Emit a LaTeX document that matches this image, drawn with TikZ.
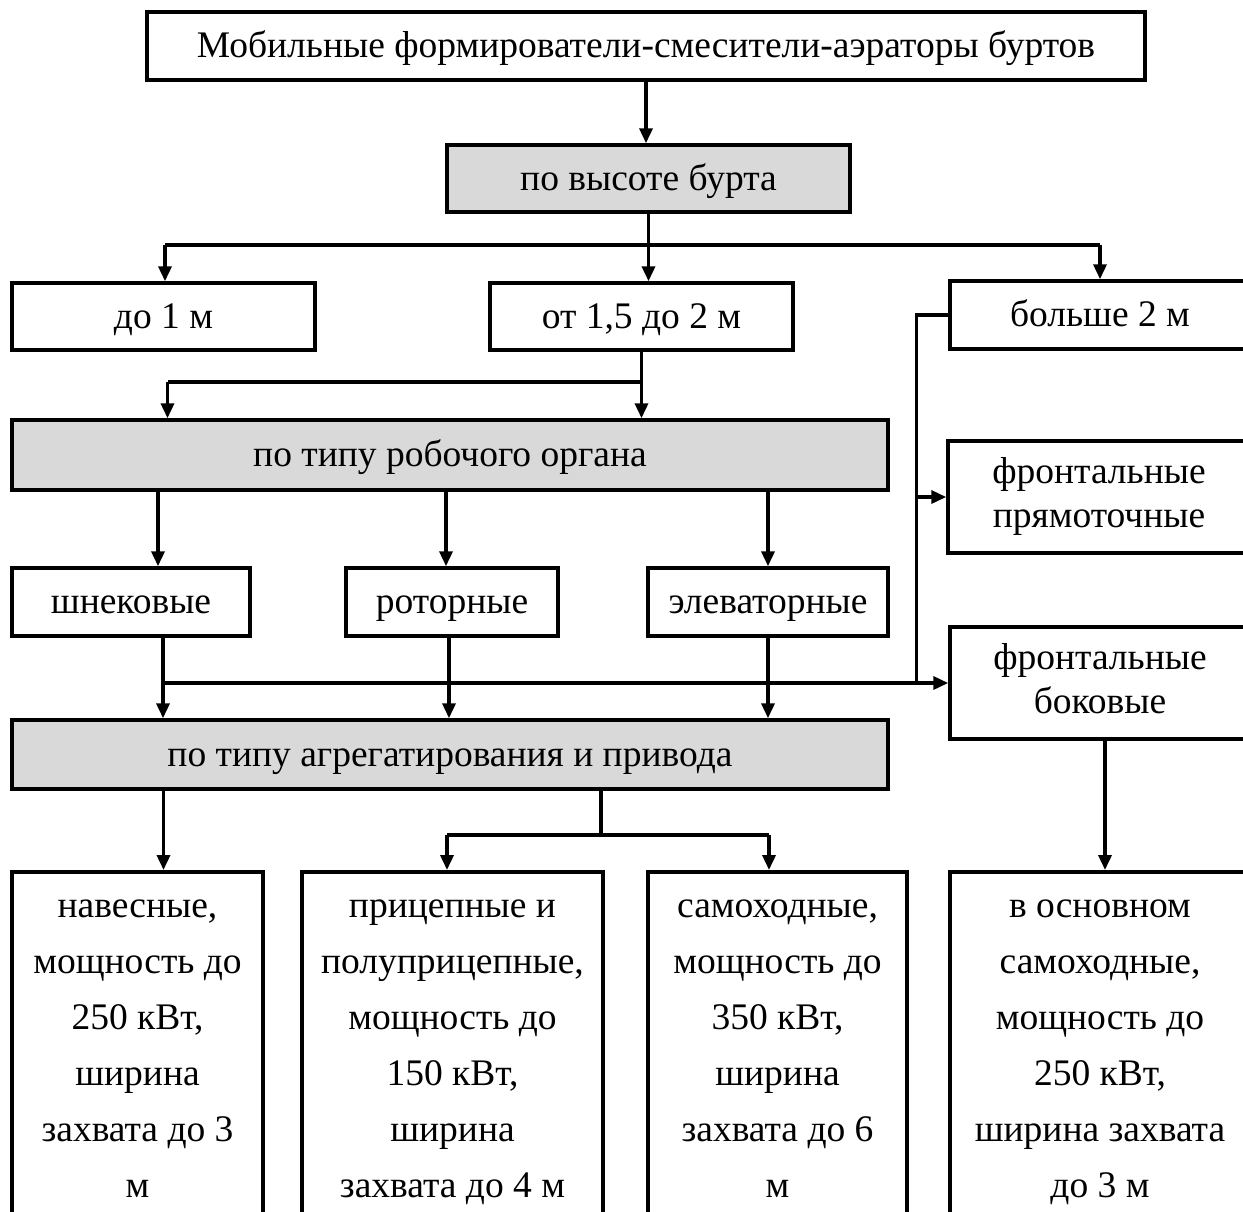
\documentclass[tikz,border=0pt]{standalone}
\usepackage{fontspec}
\setmainfont{Liberation Serif}
\usetikzlibrary{positioning,calc,arrows.meta}

\tikzset{
  box/.style={draw, line width=3.5pt, inner sep=0pt, align=center,
    font=\fontsize{37.5}{44}\selectfont},
  oneline/.style={box, text height=29pt, text depth=6pt},
  graybox/.style={oneline, fill=black!15},
  tallbox/.style={box, anchor=north, minimum height=349pt,
    font=\fontsize{37.5}{56}\selectfont},
  plain/.style={line width=3.5pt},
  link/.style={plain, -{Triangle[length=15pt,width=13pt]}},
}

\begin{document}
\begin{tikzpicture}[x=1pt,y=-1pt]
\useasboundingbox[fill=white] (0,0) rectangle (1243,1211);

% levels
\node[oneline, minimum width=998pt, minimum height=68pt] (top) at (646,46)
  {Мобильные формирователи-смесители-аэраторы буртов};
\node[graybox, minimum width=403pt, minimum height=67pt] (height) at (648.5,178.5)
  {по высоте бурта};

\node[oneline, minimum width=303pt, minimum height=67pt] (low) at (163.5,316.5) {до 1 м};
\node[oneline, minimum width=303pt, minimum height=67pt] (mid) at (641.5,316.5) {от 1,5 до 2 м};
\node[oneline, minimum width=300pt, minimum height=68pt] (high) at (1100,315) {больше 2 м};

\node[graybox, minimum width=876pt, minimum height=70pt] (organ) at (450,455)
  {по типу робочого органа};
\node[oneline, minimum width=238pt, minimum height=68pt] (screw) at (131,602) {шнековые};
\node[oneline, minimum width=212pt, minimum height=68pt] (rotor) at (452,602) {роторные};
\node[oneline, minimum width=240pt, minimum height=68pt] (elev) at (768,602) {элеваторные};

\node[box, minimum width=302pt, minimum height=112pt] (front) at (1099,497)
  {\strut фронтальные\\прямоточные\strut};
\node[box, minimum width=300pt, minimum height=112pt] (side) at (1100,683)
  {\strut фронтальные\\боковые\strut};

\node[graybox, minimum width=876pt, minimum height=69pt] (drive) at (450,754.5)
  {по типу агрегатирования и привода};

% bottom row
\node[tallbox, minimum width=251pt] (mount) at (137.5,870)
  {\strut навесные,\\мощность до\\250 кВт,\\ширина\\захвата до 3\\м\strut};
\node[tallbox, minimum width=301pt] (trail) at (452.5,870)
  {\strut прицепные и\\полуприцепные,\\мощность до\\150 кВт,\\ширина\\захвата до 4 м\strut};
\node[tallbox, minimum width=259pt] (self) at (777.5,870)
  {\strut самоходные,\\мощность до\\350 кВт,\\ширина\\захвата до 6\\м\strut};
\node[tallbox, minimum width=300pt] (main) at (1100,870)
  {\strut в основном\\самоходные,\\мощность до\\250 кВт,\\ширина захвата\\до 3 м\strut};

% connectors
\draw[link] (top.south) -- (top.south |- height.north);
\draw[plain] (height.south) -- ++(0,31) coordinate (j1);
\draw[plain] ($(j1 -| low)+(1.5,0)$) coordinate (j1l) -- (j1 -| high);
\draw[link] (j1l) -- (j1l |- low.north);
\draw[link] (j1) -- (j1 |- mid.north);
\draw[link] (j1 -| high) -- (high.north);

\draw[plain] (mid.south) -- ++(0,30) coordinate (j2) -- ++(-474,0) coordinate (j3);
\draw[link] (j2) -- (j2 |- organ.north);
\draw[link] (j3) -- (j3 |- organ.north);

\coordinate (o1) at ($(organ.south -| screw.north)+(27,0)$);
\coordinate (o2) at ($(organ.south -| rotor.north)+(-6,0)$);
\draw[link] (o1) -- (o1 |- screw.north);
\draw[link] (o2) -- (o2 |- rotor.north);
\draw[link] (organ.south -| elev.north) -- (elev.north);

\coordinate (s1) at ($(screw.south)+(32,0)$);
\coordinate (s2) at ($(rotor.south)+(-3,0)$);
\draw[link] (s1) -- (s1 |- drive.north);
\draw[link] (s2) -- (s2 |- drive.north);
\draw[link] (elev.south) -- (elev.south |- drive.north);
\draw[link] (s1 |- side.west) -- (side.west);
\draw[plain] (high.west) -- ++(-32,0) coordinate (v1) -- (v1 |- side.west);
\draw[link] (v1 |- front.west) -- (front.west);

\coordinate (d1) at ($(drive.south -| mount.north)+(26,0)$);
\draw[link] (d1) -- (d1 |- mount.north);
\draw[plain] ($(drive.south)+(151,0)$) -- ++(0,44) coordinate (j4);
\coordinate (j5) at ($(j4 -| trail.north)+(-5.5,0)$);
\coordinate (j6) at ($(j4 -| self.north)+(-8.5,0)$);
\draw[plain] (j5) -- (j6);
\draw[link] (j5) -- (j5 |- trail.north);
\draw[link] (j6) -- (j6 |- self.north);
\draw[link] ($(side.south)+(5,0)$) -- ($(main.north)+(5,0)$);
\end{tikzpicture}
\end{document}
